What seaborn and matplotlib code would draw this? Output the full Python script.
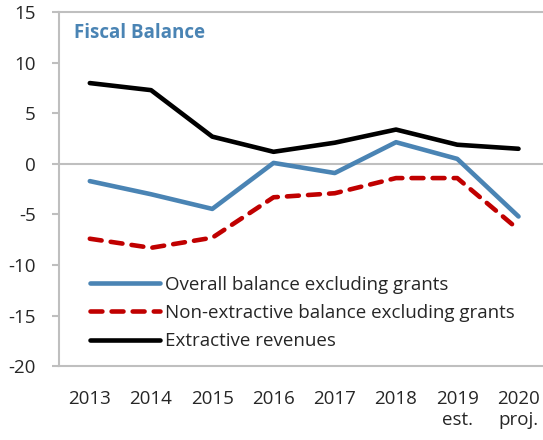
import matplotlib
matplotlib.use("Agg")
import matplotlib.pyplot as plt
import seaborn as sns
import pandas as pd
import numpy as np

years = ['2013', '2014', '2015', '2016', '2017', '2018', '2019\nest.', '2020\nproj.']
overall = [-1.7, -3.0, -4.45, 0.1, -0.9, 2.15, 0.5, -5.2]
non_extractive = [-7.4, -8.3, -7.3, -3.3, -2.9, -1.4, -1.4, -6.5]
extractive = [8.0, 7.3, 2.7, 1.2, 2.1, 3.4, 1.9, 1.5]

sns.set_style("white")
plt.rcParams['font.family'] = ['Open Sans', 'DejaVu Sans']
plt.rcParams['axes.unicode_minus'] = False

df = pd.DataFrame({'pos': np.arange(len(years)), 'overall': overall,
                   'nonext': non_extractive, 'ext': extractive})

fig = plt.figure(figsize=(5.43, 4.4), dpi=100)
ax = fig.add_axes([0.109, 0.168, 0.891, 0.804])

ax.axhline(0, color='#bfbfbf', lw=1.5, zorder=1)
sns.lineplot(data=df, x='pos', y='overall', ax=ax, color='#4a84b4', lw=3.3,
             label='Overall balance excluding grants')
sns.lineplot(data=df, x='pos', y='nonext', ax=ax, color='#c00000', lw=3.3,
             label='Non-extractive balance excluding grants')
ax.lines[-1].set_linestyle((0, (2.6, 2.0)))
ax.lines[-1].set_dash_capstyle('round')
sns.lineplot(data=df, x='pos', y='ext', ax=ax, color='black', lw=3.3,
             label='Extractive revenues')

ax.set_ylim(-20, 15)
ax.set_yticks(range(-20, 16, 5))
ax.set_xlim(-0.5, 7.4)
ax.set_xticks(df['pos'])
ax.set_xticklabels(years)
ax.set_xlabel('')
ax.set_ylabel('')

for s in ['left', 'top', 'bottom']:
    ax.spines[s].set_color('#bfbfbf')
    ax.spines[s].set_linewidth(1.5)
ax.spines['right'].set_visible(False)
ax.tick_params(axis='y', left=True, length=5, color='#bfbfbf', width=1.5,
               labelsize=13.5, pad=12)
ax.tick_params(axis='x', bottom=False, labelsize=13.5, pad=14)

ax.text(0.03, 0.97, 'Fiscal Balance', transform=ax.transAxes, ha='left', va='top',
        fontsize=13.5, fontweight='bold', color='#4a84b4')

leg = ax.legend(loc='lower left', frameon=False, fontsize=13.5, handlelength=3.7,
                handletextpad=0.3, labelspacing=0.55, borderpad=0, borderaxespad=0,
                bbox_to_anchor=(0.064, 0.045))

fig.savefig('out.png', dpi=100)
